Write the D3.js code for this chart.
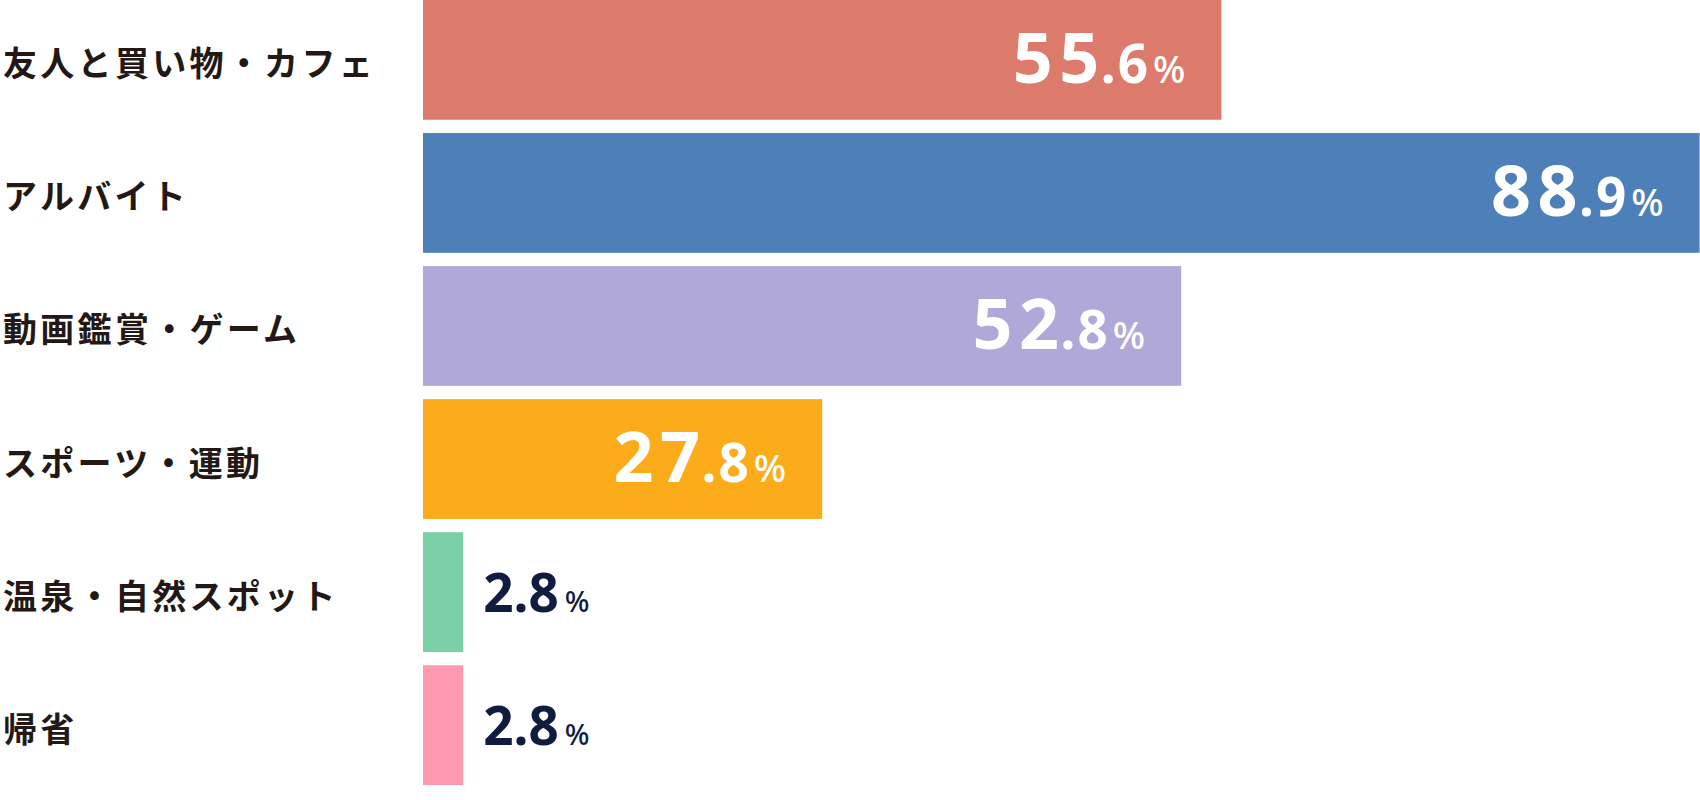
<!DOCTYPE html>
<html><head><meta charset="utf-8">
<script src="https://cdn.jsdelivr.net/npm/d3@7"></script>
<style>html,body{margin:0;padding:0;background:#fff;}svg{display:block;}</style>
</head><body>
<svg id="chart" width="1700" height="800"></svg>
<script>
const categories = ["友人と買い物・カフェ", "アルバイト", "動画鑑賞・ゲーム", "スポーツ・運動", "温泉・自然スポット", "帰省"];
const values = [55.6, 88.9, 52.8, 27.8, 2.8, 2.8];
const colors = ["#dc7b6b", "#4d80b9", "#b0a8d8", "#fcab1b", "#7acfa5", "#fe99b0"];

const svg = d3.select("#chart");
const x = d3.scaleLinear().domain([0, 100]).range([423, 423 + 1436]);
const y = d3.scaleBand().domain(categories).range([0, 785]).paddingInner(0.1).paddingOuter(0);

const g = svg.selectAll("g.row").data(categories.map((c, i) => ({c, v: values[i], col: colors[i]})))
  .enter().append("g").attr("class", "row");

g.append("rect")
  .attr("x", x(0))
  .attr("y", d => y(d.c))
  .attr("width", d => x(d.v) - x(0))
  .attr("height", y.bandwidth())
  .attr("fill", d => d.col);

g.append("text")
  .attr("x", 3)
  .attr("y", d => y(d.c) + y.bandwidth() / 2 + 2)
  .attr("dominant-baseline", "central")
  .attr("font-family", "'Noto Sans CJK JP', sans-serif")
  .attr("font-weight", 700)
  .attr("font-size", 34)
  .attr("letter-spacing", 3.3)
  .attr("fill", "#231815")
  .text(d => d.c);

const big = g.filter(d => d.v >= 10);
const bt = big.append("text")
  .attr("x", d => x(d.v) - 36)
  .attr("y", d => y(d.c) + y.bandwidth() / 2 + 23)
  .attr("text-anchor", "end")
  .attr("font-family", "'Noto Sans', sans-serif")
  .attr("font-weight", 700)
  .attr("fill", "#ffffff");
bt.append("tspan").attr("font-size", 70).attr("letter-spacing", 6.5)
  .text(d => d.v.toFixed(1).split(".")[0]);
bt.append("tspan").attr("font-size", 53).attr("letter-spacing", 2).attr("dx", -5)
  .text(d => "." + d.v.toFixed(1).split(".")[1]);
bt.append("tspan").attr("font-size", 38).attr("font-weight", 500).attr("dx", 3).text("%");

const small = g.filter(d => d.v < 10);
const st = small.append("text")
  .attr("x", d => x(d.v) + 20)
  .attr("y", d => y(d.c) + y.bandwidth() / 2 + 20)
  .attr("text-anchor", "start")
  .attr("font-family", "'Noto Sans', sans-serif")
  .attr("font-weight", 700)
  .attr("fill", "#0f1c40");
st.append("tspan").attr("font-size", 53).attr("letter-spacing", 0)
  .text(d => d.v.toFixed(1));
st.append("tspan").attr("font-size", 29).attr("font-weight", 500).attr("dx", 6).text("%");
</script>
</body></html>
